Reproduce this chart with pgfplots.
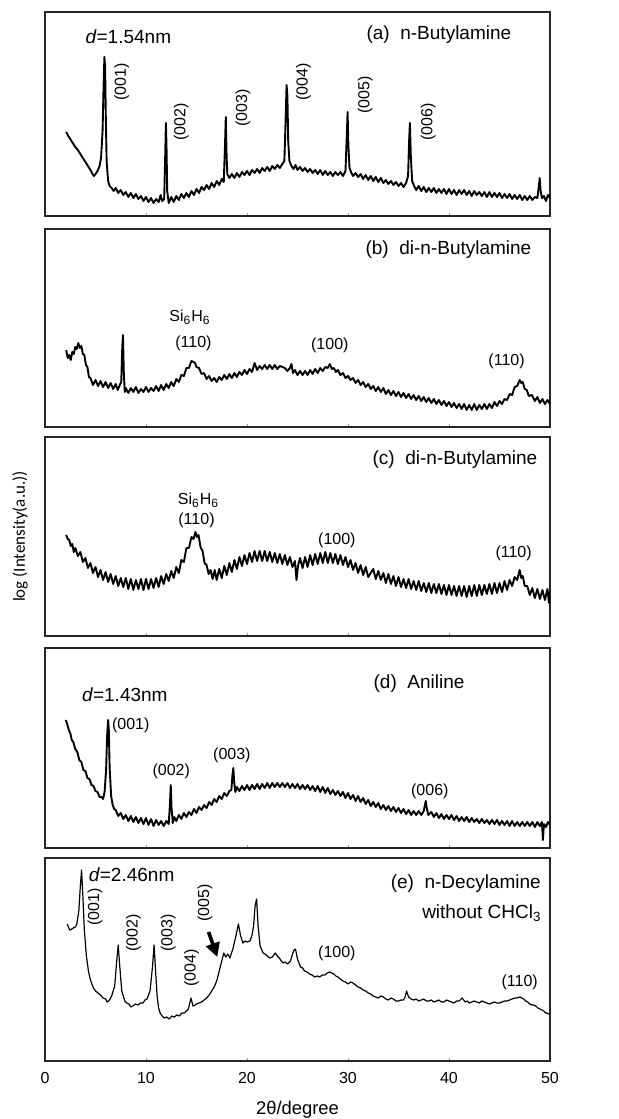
\documentclass[border=0pt]{standalone}
\usepackage{pgfplots}
\pgfplotsset{compat=1.18}
\usepackage{fontspec}
\setmainfont{Liberation Sans}
\newfontfamily\calibri{Carlito}
\usetikzlibrary{arrows.meta}

\pgfplotsset{panel/.style={scale only axis, width=252.5pt, xmin=0, xmax=50, ymin=0,
  xtick={0,10,20,30,40,50}, ytick=\empty, xtick pos=left, tick align=inside,
  major tick length=1.5pt, tick style={black!40, line width=0.4pt},
  axis line style={black!85, line width=0.6pt}}}
\tikzset{lbl/.style={font=\fontsize{8}{9}\selectfont, inner sep=0pt},
  ttl/.style={font=\fontsize{9.5}{11}\selectfont, inner sep=0pt},
  xrd/.style={black, line width=0.95pt, mark=none, line join=round}}

\begin{document}
\begin{tikzpicture}
\useasboundingbox (0,0) rectangle (309pt,-559.5pt);
\node[rotate=90, font=\calibri\fontsize{8.5}{10}\selectfont, inner sep=0pt] at (10pt,-268.25pt) {log (Intensity(a.u.))};

% ---------------- (a)
\begin{axis}[panel, at={(22.5pt,-6pt)}, anchor=north west, height=102pt, ymax=204, xticklabels={}]
\addplot[xrd] coordinates {
(2.10,84) (2.30,80) (2.50,77) (2.75,73) (3.00,69) (3.25,66) (3.50,62) (3.75,58) (4.00,54) (4.25,50) (4.50,46) (4.70,42) (4.85,40) (5.00,42) (5.20,45) (5.40,50) (5.55,58) (5.70,85) (5.80,130) (5.88,159) (5.95,150) (6.02,100) (6.10,55) (6.25,35) (6.40,30) (6.60,28) (6.80,25) (7.00,28) (7.25,23) (7.50,26) (7.75,21) (8.00,24) (8.25,19) (8.50,23) (8.75,18) (9.00,22) (9.25,17) (9.50,20) (9.75,15) (10.00,19) (10.25,14) (10.50,18) (10.75,13) (11.00,17) (11.25,14) (11.45,21) (11.60,15) (11.80,17) (11.90,60) (11.97,93) (12.03,70) (12.10,25) (12.25,13) (12.50,19) (12.75,14) (13.00,20) (13.25,16) (13.50,22) (13.75,18) (14.00,23) (14.25,19) (14.50,25) (14.75,21) (15.00,27) (15.25,23) (15.50,29) (15.75,26) (16.00,31) (16.25,27) (16.50,33) (16.75,29) (17.00,35) (17.25,31) (17.50,37) (17.70,34) (17.82,70) (17.90,99) (17.98,60) (18.05,42) (18.25,38) (18.50,42) (18.75,38) (19.00,43) (19.25,39) (19.50,44) (19.75,41) (20.00,45) (20.25,41) (20.50,46) (20.75,43) (21.00,47) (21.25,43) (21.50,48) (21.75,45) (22.00,49) (22.25,45) (22.50,50) (22.75,47) (23.00,51) (23.25,48) (23.50,52) (23.70,55) (23.82,95) (23.92,131) (24.00,120) (24.08,75) (24.20,55) (24.40,50) (24.60,47) (24.80,51) (25.00,46) (25.25,49) (25.50,45) (25.75,48) (26.00,44) (26.25,47) (26.50,43) (26.75,46) (27.00,42) (27.25,46) (27.50,41) (27.75,45) (28.00,41) (28.25,44) (28.50,40) (28.75,44) (29.00,41) (29.25,44) (29.50,40) (29.75,45) (29.88,80) (29.96,104) (30.04,70) (30.15,48) (30.30,44) (30.50,40) (30.75,43) (31.00,39) (31.25,42) (31.50,37) (31.75,41) (32.00,36) (32.25,40) (32.50,35) (32.75,39) (33.00,34) (33.25,38) (33.50,33) (33.75,36) (34.00,32) (34.25,35) (34.50,31) (34.75,34) (35.00,30) (35.25,33) (35.50,29) (35.75,33) (35.95,40) (36.05,75) (36.13,93) (36.22,60) (36.35,35) (36.55,30) (36.75,26) (37.00,30) (37.25,25) (37.50,29) (37.75,24) (38.00,28) (38.25,24) (38.50,28) (38.75,23) (39.00,27) (39.25,23) (39.50,27) (39.75,22) (40.00,27) (40.25,22) (40.50,26) (40.75,21) (41.00,26) (41.25,22) (41.50,26) (41.75,21) (42.00,25) (42.25,20) (42.50,25) (42.75,21) (43.00,24) (43.25,20) (43.50,24) (43.75,19) (44.00,24) (44.25,19) (44.50,23) (44.75,19) (45.00,23) (45.25,18) (45.50,22) (45.75,18) (46.00,22) (46.25,17) (46.50,21) (46.75,17) (47.00,21) (47.25,16) (47.50,20) (47.75,16) (48.00,20) (48.25,16) (48.50,19) (48.75,18) (48.90,30) (48.98,38) (49.06,26) (49.20,18) (49.40,20) (49.60,15) (49.80,21) (50.00,18)
};
\node[ttl] at (axis cs:8.25,179) {\textit{d}=1.54nm};
\node[ttl, anchor=west] at (axis cs:31.8,181) {(a)\ \ n-Butylamine};
\node[lbl, rotate=90] at (axis cs:7.6,134) {(001)};
\node[lbl, rotate=90] at (axis cs:13.5,94) {(002)};
\node[lbl, rotate=90] at (axis cs:19.6,108) {(003)};
\node[lbl, rotate=90] at (axis cs:25.6,134) {(004)};
\node[lbl, rotate=90] at (axis cs:31.7,121) {(005)};
\node[lbl, rotate=90] at (axis cs:37.95,94) {(006)};
\end{axis}

% ---------------- (b)
\begin{axis}[panel, at={(22.5pt,-114.5pt)}, anchor=north west, height=99pt, ymax=198, xticklabels={}]
\addplot[xrd] coordinates {
(2.10,77) (2.25,69) (2.40,72) (2.55,67) (2.70,75) (2.85,73) (3.00,80) (3.15,78) (3.30,84) (3.45,79) (3.60,81) (3.75,73) (3.90,72) (4.05,62) (4.20,60) (4.35,50) (4.50,49) (4.75,42) (5.00,47) (5.25,41) (5.50,46) (5.75,40) (6.00,45) (6.25,39) (6.50,44) (6.75,38) (7.00,43) (7.20,37) (7.40,42) (7.55,45) (7.65,80) (7.72,92) (7.80,55) (7.90,35) (8.00,39) (8.25,34) (8.50,39) (8.75,35) (9.00,40) (9.25,34) (9.50,38) (9.75,35) (10.00,40) (10.25,35) (10.50,39) (10.75,36) (11.00,41) (11.25,36) (11.50,42) (11.75,37) (12.00,43) (12.25,39) (12.50,45) (12.75,41) (13.00,48) (13.25,45) (13.50,52) (13.75,51) (14.00,59) (14.25,59) (14.50,66) (14.70,65) (14.85,64) (15.00,60) (15.25,59) (15.50,53) (15.75,54) (16.00,48) (16.25,51) (16.50,46) (16.75,49) (17.00,45) (17.25,50) (17.50,47) (17.75,52) (18.00,48) (18.25,53) (18.50,49) (18.75,54) (19.00,50) (19.25,55) (19.50,52) (19.75,57) (20.00,53) (20.25,58) (20.50,55) (20.75,64) (21.00,57) (21.25,61) (21.50,58) (21.75,62) (22.00,58) (22.25,62) (22.50,58) (22.75,62) (23.00,58) (23.25,61) (23.50,60) (23.75,59) (24.00,56) (24.25,59) (24.40,63) (24.55,54) (24.75,57) (25.00,52) (25.25,56) (25.50,52) (25.75,56) (26.00,52) (26.25,57) (26.50,53) (26.75,58) (27.00,54) (27.25,59) (27.50,56) (27.75,60) (28.00,59) (28.20,63) (28.40,58) (28.60,59) (28.80,55) (29.00,57) (29.25,52) (29.50,54) (29.75,49) (30.00,51) (30.25,47) (30.50,49) (30.75,44) (31.00,47) (31.25,42) (31.50,45) (31.75,40) (32.00,43) (32.25,38) (32.50,41) (32.75,36) (33.00,40) (33.25,35) (33.50,39) (33.75,33) (34.00,37) (34.25,32) (34.50,36) (34.75,31) (35.00,35) (35.25,30) (35.50,34) (35.75,29) (36.00,33) (36.25,28) (36.50,32) (36.75,27) (37.00,31) (37.25,26) (37.50,30) (37.75,25) (38.00,29) (38.25,24) (38.50,28) (38.75,23) (39.00,27) (39.25,22) (39.50,26) (39.75,21) (40.00,25) (40.25,20) (40.50,24) (40.75,19) (41.00,23) (41.25,18) (41.50,23) (41.75,17) (42.00,22) (42.25,17) (42.50,23) (42.75,17) (43.00,22) (43.25,18) (43.50,23) (43.75,18) (44.00,23) (44.25,19) (44.50,25) (44.75,21) (45.00,26) (45.25,23) (45.50,28) (45.75,27) (46.00,33) (46.25,32) (46.50,40) (46.75,41) (47.00,47) (47.15,44) (47.30,45) (47.50,38) (47.70,37) (47.90,31) (48.20,32) (48.50,26) (48.75,30) (49.00,24) (49.25,28) (49.50,23) (49.75,27) (50.00,23)
};
\node[ttl, anchor=west] at (axis cs:31.7,177.7) {(b)\ \ di-n-Butylamine};
\node[lbl] at (axis cs:14.35,110) {Si\textsubscript{6}H\textsubscript{6}};
\node[lbl] at (axis cs:14.7,83.7) {(110)};
\node[lbl] at (axis cs:28.2,82) {(100)};
\node[lbl] at (axis cs:45.7,65.3) {(110)};
\end{axis}

% ---------------- (c)
\begin{axis}[panel, at={(22.5pt,-218.5pt)}, anchor=north west, height=99.5pt, ymax=199, xticklabels={}]
\addplot[xrd] coordinates {
(2.10,101) (2.25,97) (2.40,96) (2.55,90) (2.70,92) (2.85,84) (3.00,88) (3.25,80) (3.50,84) (3.75,74) (4.00,78) (4.25,68) (4.50,73) (4.75,63) (5.00,69) (5.25,59) (5.50,66) (5.75,56) (6.00,64) (6.25,54) (6.50,62) (6.75,52) (7.00,60) (7.25,50) (7.50,58) (7.75,49) (8.00,58) (8.25,47) (8.50,57) (8.75,46) (9.00,56) (9.25,47) (9.50,57) (9.75,46) (10.00,57) (10.25,47) (10.50,57) (10.75,48) (11.00,58) (11.25,49) (11.50,60) (11.75,52) (12.00,62) (12.25,55) (12.50,65) (12.75,58) (13.00,69) (13.25,63) (13.50,76) (13.75,74) (14.00,88) (14.25,88) (14.50,99) (14.70,97) (14.90,104) (15.05,99) (15.20,101) (15.40,89) (15.60,85) (15.80,73) (16.00,71) (16.20,62) (16.40,66) (16.60,57) (16.80,66) (17.00,56) (17.25,67) (17.50,58) (17.75,70) (18.00,61) (18.25,73) (18.50,64) (18.75,76) (19.00,67) (19.25,79) (19.50,70) (19.75,81) (20.00,72) (20.25,83) (20.50,74) (20.75,85) (21.00,75) (21.25,85) (21.50,75) (21.75,85) (22.00,75) (22.25,84) (22.50,74) (22.75,83) (23.00,73) (23.25,82) (23.50,72) (23.75,81) (24.00,71) (24.25,79) (24.50,69) (24.75,75) (24.90,56) (25.05,70) (25.25,78) (25.50,68) (25.75,79) (26.00,69) (26.25,81) (26.50,71) (26.75,82) (27.00,72) (27.25,83) (27.50,73) (27.75,84) (28.00,73) (28.25,83) (28.50,73) (28.75,82) (29.00,72) (29.25,81) (29.50,71) (29.75,79) (30.00,69) (30.25,76) (30.50,66) (30.75,73) (31.00,63) (31.25,71) (31.50,61) (31.75,69) (32.00,59) (32.50,67) (32.75,57) (33.00,65) (33.25,56) (33.50,63) (33.75,53) (34.00,62) (34.25,52) (34.50,60) (34.75,50) (35.00,59) (35.25,49) (35.50,57) (35.75,48) (36.00,57) (36.25,47) (36.50,55) (36.75,46) (37.00,55) (37.25,45) (37.50,53) (37.75,44) (38.00,53) (38.25,43) (38.50,52) (38.75,43) (39.00,52) (39.25,42) (39.50,51) (39.75,41) (40.00,51) (40.25,41) (40.50,50) (40.75,40) (41.00,50) (41.25,40) (41.50,50) (41.75,39) (42.00,50) (42.25,40) (42.50,51) (42.75,40) (43.00,51) (43.25,41) (43.50,51) (43.75,42) (44.00,52) (44.25,42) (44.50,53) (44.75,43) (45.00,53) (45.25,44) (45.50,55) (45.75,46) (46.00,56) (46.25,50) (46.50,59) (46.75,56) (47.00,66) (47.15,58) (47.30,60) (47.50,50) (47.75,50) (48.00,41) (48.25,48) (48.50,38) (48.75,47) (49.00,37) (49.25,46) (49.50,36) (49.75,47) (49.90,33) (50.00,45)
};
\node[ttl, anchor=west] at (axis cs:32.4,176.7) {(c)\ \ di-n-Butylamine};
\node[lbl] at (axis cs:15.2,136) {Si\textsubscript{6}H\textsubscript{6}};
\node[lbl] at (axis cs:15.0,116) {(110)};
\node[lbl] at (axis cs:28.9,96) {(100)};
\node[lbl] at (axis cs:46.4,82.7) {(110)};
\end{axis}

% ---------------- (d)
\begin{axis}[panel, at={(22.5pt,-324pt)}, anchor=north west, height=100pt, ymax=200, xticklabels={}]
\addplot[xrd] coordinates {
(2.05,128) (2.20,124) (2.35,118) (2.50,115) (2.65,108) (2.80,106) (3.00,99) (3.20,96) (3.40,88) (3.60,86) (3.80,78) (4.00,77) (4.20,70) (4.40,69) (4.60,63) (4.80,62) (5.00,57) (5.20,56) (5.40,51) (5.60,51) (5.75,49) (5.90,56) (6.05,78) (6.15,112) (6.25,128) (6.32,118) (6.40,80) (6.55,52) (6.70,43) (6.85,39) (7.00,38) (7.25,32) (7.50,35) (7.75,29) (8.00,33) (8.25,27) (8.50,32) (8.75,26) (9.00,31) (9.25,25) (9.50,30) (9.75,24) (10.00,30) (10.25,23) (10.50,29) (10.75,22) (11.00,28) (11.25,23) (11.50,27) (11.75,22) (12.00,27) (12.25,24) (12.38,45) (12.45,63) (12.53,40) (12.65,25) (12.80,31) (13.00,27) (13.25,33) (13.50,29) (13.75,35) (14.00,31) (14.25,36) (14.50,33) (14.75,39) (15.00,35) (15.25,41) (15.50,38) (15.75,43) (16.00,40) (16.25,46) (16.50,43) (16.75,49) (17.00,46) (17.25,52) (17.50,49) (17.75,55) (18.00,52) (18.25,57) (18.45,58) (18.57,74) (18.65,80) (18.73,66) (18.85,56) (19.00,61) (19.25,57) (19.50,62) (19.75,58) (20.00,63) (20.25,58) (20.50,63) (20.75,59) (21.00,64) (21.25,59) (21.50,64) (21.75,60) (22.00,65) (22.25,60) (22.50,65) (22.75,61) (23.00,65) (23.25,61) (23.50,65) (23.75,61) (24.00,65) (24.25,60) (24.50,64) (24.75,60) (25.00,64) (25.25,59) (25.50,63) (25.75,59) (26.00,63) (26.25,58) (26.50,62) (26.75,57) (27.00,62) (27.25,56) (27.50,61) (27.75,55) (28.00,60) (28.25,54) (28.50,58) (28.75,53) (29.00,57) (29.25,52) (29.50,56) (29.75,50) (30.00,55) (30.25,49) (30.50,53) (30.75,47) (31.00,52) (31.25,46) (31.50,50) (31.75,44) (32.00,48) (32.25,42) (32.50,46) (32.75,41) (33.00,45) (33.25,39) (33.50,43) (33.75,38) (34.00,42) (34.25,37) (34.50,41) (34.75,36) (35.00,40) (35.25,35) (35.50,39) (35.75,34) (36.00,38) (36.25,33) (36.50,37) (36.75,33) (37.00,37) (37.25,33) (37.50,37) (37.62,43) (37.70,47) (37.80,40) (37.95,33) (38.25,36) (38.50,31) (38.75,35) (39.00,30) (39.25,34) (39.50,29) (39.75,33) (40.00,29) (40.25,33) (40.50,28) (40.75,32) (41.00,27) (41.25,31) (41.50,27) (41.75,31) (42.00,26) (42.25,30) (42.50,26) (42.75,29) (43.00,25) (43.25,29) (43.50,25) (43.75,28) (44.00,24) (44.25,28) (44.50,24) (44.75,28) (45.00,23) (45.25,27) (45.50,23) (45.75,27) (46.00,22) (46.25,27) (46.50,22) (46.75,26) (47.00,22) (47.25,26) (47.50,22) (47.75,26) (48.00,22) (48.25,26) (48.50,21) (48.75,26) (49.00,22) (49.20,26) (49.30,8) (49.40,24) (49.60,21) (49.80,26) (50.00,23)
};
\node[ttl, anchor=west] at (axis cs:32.5,164.7) {(d)\ \ Aniline};
\node[ttl] at (axis cs:7.9,153) {\textit{d}=1.43nm};
\node[lbl, anchor=west] at (axis cs:6.6,123) {(001)};
\node[lbl] at (axis cs:12.5,76.3) {(002)};
\node[lbl] at (axis cs:18.5,93) {(003)};
\node[lbl] at (axis cs:38.1,56.3) {(006)};
\end{axis}

% ---------------- (e)
\begin{axis}[panel, at={(22.5pt,-429pt)}, anchor=north west, height=101.5pt, ymax=203,
  /pgf/number format/assume math mode=true,
  xticklabel style={font=\fontsize{8}{9}\selectfont, yshift=-2pt},
  xlabel={2θ/degree}, xlabel style={font=\fontsize{9.2}{11}\selectfont, at={(axis description cs:0.5,0)}, anchor=center, yshift=-24.5pt}]
\addplot[black, line width=0.6pt, mark=none, line join=round] coordinates {
(2.20,137) (2.45,131) (2.65,132) (2.80,133) (3.00,134) (3.15,137) (3.35,150) (3.50,175) (3.62,191) (3.75,165) (3.90,130) (4.10,105) (4.30,90) (4.45,83) (4.60,78) (4.80,73) (5.00,70) (5.25,68) (5.50,66) (5.75,63) (6.00,62) (6.15,59) (6.30,60) (6.45,62) (6.60,65) (6.90,75) (7.10,100) (7.25,116) (7.40,95) (7.60,70) (7.90,60) (8.10,58) (8.30,57) (8.50,54) (8.70,55) (8.95,57) (9.20,56) (9.45,58) (9.70,58) (9.90,61) (10.10,62) (10.40,70) (10.65,95) (10.80,116) (10.95,90) (11.10,65) (11.25,53) (11.40,48) (11.60,45) (11.80,43) (12.05,44) (12.30,42) (12.55,45) (12.80,44) (13.05,46) (13.30,45) (13.55,48) (13.80,48) (14.00,50) (14.20,52) (14.45,63) (14.65,55) (14.85,56) (15.00,57) (15.25,58) (15.50,59) (15.75,61) (16.00,63) (16.25,66) (16.50,70) (16.75,74) (17.00,80) (17.30,92) (17.50,100) (17.70,108) (17.90,104) (18.10,107) (18.30,103) (18.60,112) (18.90,125) (19.15,137) (19.35,126) (19.60,118) (19.80,120) (20.00,119) (20.30,120) (20.50,126) (20.65,135) (20.80,155) (20.95,162) (21.10,135) (21.30,115) (21.60,108) (21.80,107) (22.00,105) (22.25,103) (22.50,104) (22.80,108) (23.00,105) (23.20,103) (23.40,100) (23.60,98) (23.80,99) (24.00,97) (24.30,100) (24.60,110) (24.80,112) (25.00,102) (25.30,94) (25.50,93) (25.70,90) (25.95,89) (26.20,87) (26.45,86) (26.70,84) (26.95,85) (27.20,84) (27.45,86) (27.70,86) (27.95,88) (28.20,89) (28.40,88) (28.60,87) (28.80,85) (29.00,84) (29.25,82) (29.50,80) (29.75,79) (30.00,77) (30.25,79) (30.50,78) (30.75,76) (31.00,74) (31.25,73) (31.50,71) (31.75,70) (32.00,68) (32.25,67) (32.50,65) (32.75,64) (33.00,63) (33.25,65) (33.50,64) (33.75,62) (34.00,61) (34.25,63) (34.50,62) (34.75,60) (35.00,60) (35.25,61) (35.50,61) (35.65,64) (35.80,70) (36.00,64) (36.25,62) (36.50,61) (36.75,62) (37.00,60) (37.25,61) (37.50,62) (37.75,60) (38.00,60) (38.25,61) (38.50,59) (38.75,60) (39.00,61) (39.25,59) (39.50,59) (39.75,61) (40.00,60) (40.25,59) (40.50,58) (40.75,60) (41.00,60) (41.30,63) (41.60,59) (41.80,60) (42.00,58) (42.25,59) (42.50,60) (42.75,59) (43.00,58) (43.25,60) (43.50,59) (43.75,58) (44.00,57) (44.25,58) (44.50,59) (44.75,58) (45.00,58) (45.25,59) (45.50,60) (45.75,60) (46.00,61) (46.25,62) (46.50,63) (46.75,63) (47.00,64) (47.20,63) (47.40,62) (47.60,60) (47.80,59) (48.00,57) (48.20,56) (48.40,56) (48.60,55) (48.80,53) (49.00,52) (49.20,51) (49.40,50) (49.55,48) (49.70,48) (49.85,47) (50.00,47)
};
\node[ttl, anchor=west] at (axis cs:4.3,186) {\textit{d}=2.46nm};
\node[ttl, anchor=west] at (axis cs:34.2,177.7) {(e)\ \ n-Decylamine};
\node[ttl, anchor=east] at (axis cs:49.2,147.7) {without CHCl\textsubscript{3}};
\node[lbl, rotate=90] at (axis cs:4.95,154) {(001)};
\node[lbl, rotate=90] at (axis cs:8.75,128) {(002)};
\node[lbl, rotate=90] at (axis cs:12.2,128) {(003)};
\node[lbl, rotate=90] at (axis cs:14.5,93) {(004)};
\node[lbl, rotate=90] at (axis cs:15.85,157.7) {(005)};
\node[lbl] at (axis cs:28.9,108) {(100)};
\node[lbl] at (axis cs:47.0,79) {(110)};
\draw[-{Triangle[length=7pt,width=7pt]}, line width=1.8pt] (axis cs:16.2,129) -- (axis cs:17.06,104);
\end{axis}
\end{tikzpicture}
\end{document}
